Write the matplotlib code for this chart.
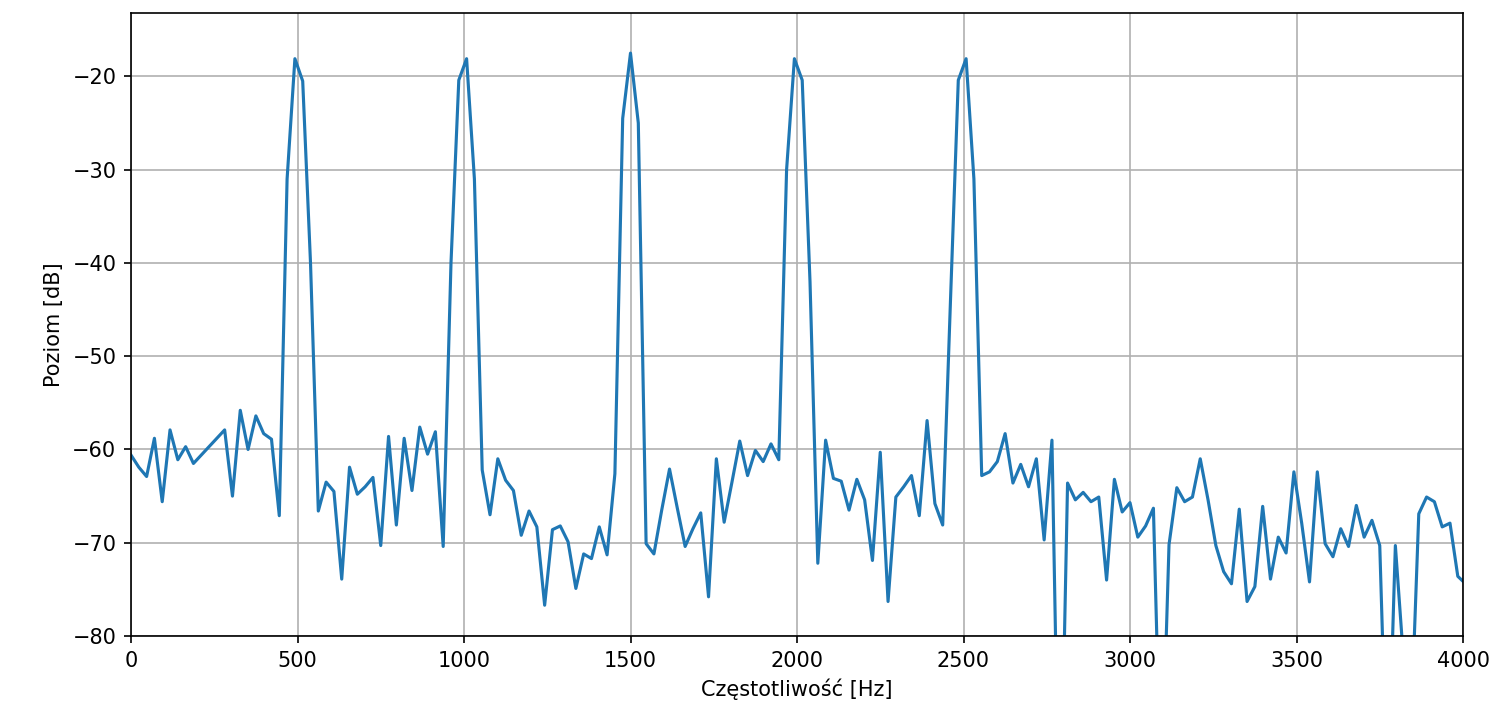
"""Widmo poziomu sygnału z pięcioma prążkami harmonicznymi."""

import matplotlib
matplotlib.use('Agg')
import matplotlib.pyplot as plt
import numpy as np


# Parametry analizy FFT (rozdzielczość częstotliwościowa 48000/2048 Hz)
SAMPLE_RATE = 48000
FFT_SIZE = 2048

# Poziom w kolejnych prążkach FFT [dB]
level_db = [
    -60.6, -61.9, -62.9, -58.8, -65.6, -57.9, -61.1, -59.7, -61.5, -60.6,
    -59.7, -58.8, -57.9, -65.0, -55.8, -60.0, -56.4, -58.3, -58.9, -67.1,
    -31.0, -18.1, -20.5, -40.0, -66.6, -63.5, -64.5, -73.9, -61.9, -64.8,
    -64.0, -63.0, -70.3, -58.6, -68.1, -58.8, -64.4, -57.6, -60.5, -58.1,
    -70.4, -40.0, -20.4, -18.1, -31.0, -62.2, -67.0, -61.0, -63.3, -64.4,
    -69.2, -66.6, -68.3, -76.7, -68.6, -68.2, -69.9, -74.9, -71.2, -71.7,
    -68.3, -71.3, -62.6, -24.5, -17.5, -25.0, -70.1, -71.2, -66.5, -62.1,
    -66.3, -70.4, -68.5, -66.8, -75.8, -61.0, -67.8, -63.5, -59.1, -62.8,
    -60.1, -61.3, -59.4, -61.1, -30.0, -18.1, -20.4, -42.0, -72.2, -59.0,
    -63.1, -63.4, -66.5, -63.2, -65.4, -71.9, -60.3, -76.3, -65.1, -64.0,
    -62.8, -67.1, -56.9, -65.8, -68.1, -44.0, -20.4, -18.1, -31.0, -62.8,
    -62.4, -61.3, -58.3, -63.6, -61.6, -64.0, -61.0, -69.7, -59.0, -105.0,
    -63.6, -65.4, -64.6, -65.6, -65.1, -74.0, -63.2, -66.7, -65.7, -69.4,
    -68.2, -66.3, -98.0, -70.2, -64.1, -65.6, -65.1, -61.0, -65.4, -70.3,
    -73.1, -74.4, -66.4, -76.3, -74.7, -66.1, -73.9, -69.4, -71.1, -62.4,
    -67.9, -74.2, -62.4, -70.1, -71.5, -68.5, -70.4, -66.0, -69.4, -67.6,
    -70.3, -98.0, -70.3, -82.0, -90.0, -66.9, -65.1, -65.6, -68.3, -67.9,
    -73.6, -74.4,
]

freqs = np.arange(len(level_db)) * SAMPLE_RATE / FFT_SIZE

plt.figure(figsize=(14.99 / 1.5, 7.19 / 1.5), dpi=150)
plt.plot(freqs, level_db)
plt.xlim(0, 4000)
plt.ylim(-80, -13.2)
plt.xlabel("Częstotliwość [Hz]")
plt.ylabel("Poziom [dB]")
plt.grid(True)

plt.subplots_adjust(left=131 / 1499, right=1463 / 1499, top=1 - 13 / 719, bottom=1 - 636 / 719)
plt.savefig("out.png", dpi=150)
plt.close()
